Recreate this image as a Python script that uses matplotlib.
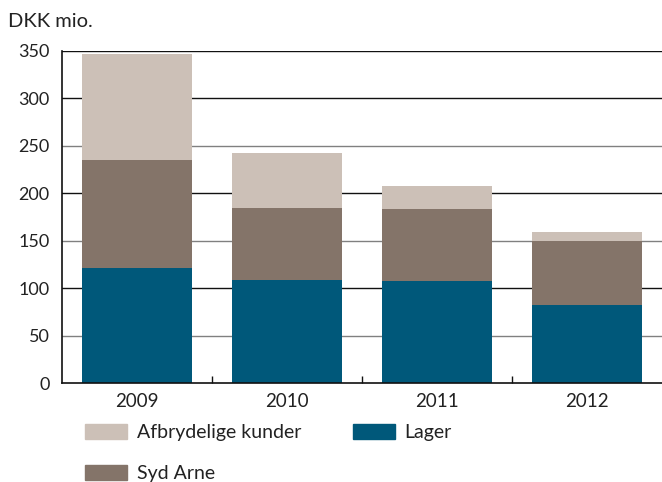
import matplotlib
matplotlib.use("Agg")
import matplotlib.pyplot as plt
from matplotlib.patches import Patch
import numpy as np

years = ["2009", "2010", "2011", "2012"]
lager = [121, 109, 107, 82]
syd_arne = [114, 75, 76, 68]
afbrydelige = [111, 58, 24, 9]

c_lager = "#00587A"
c_syd = "#847469"
c_afb = "#CCC0B7"

plt.rcParams["font.family"] = ["Lato", "DejaVu Sans"]

fig = plt.figure(figsize=(6.62, 4.82), dpi=100)
ax = fig.add_axes([62/662, 99/482, 600/662, (383-50.7)/482])

x = np.arange(len(years))
w = 0.727
lager_a = np.array(lager)
syd_a = np.array(syd_arne)
afb_a = np.array(afbrydelige)

# gridlines (alternating black / grey), drawn beneath bars
for v in [50, 100, 150, 200, 250, 300, 350]:
    col = "#111111" if v % 100 == 0 or v == 350 else "#808080"
    ax.axhline(v, color=col, lw=1.0, zorder=0)

ax.bar(x, lager_a, w, color=c_lager, zorder=2)
ax.bar(x, syd_a, w, bottom=lager_a, color=c_syd, zorder=2)
ax.bar(x, afb_a, w, bottom=lager_a + syd_a, color=c_afb, zorder=2)

ax.set_xlim(-0.5, 3.5)
ax.set_ylim(0, 350)
ax.set_yticks(range(0, 351, 50))
ax.set_xticks(x)
ax.set_xticklabels(years)
ax.set_xticks([0.5, 1.5, 2.5], minor=True)

for s in ["top", "right"]:
    ax.spines[s].set_visible(False)
ax.spines["left"].set_linewidth(1.2)
ax.spines["bottom"].set_linewidth(1.2)
ax.spines["left"].set_color("#111111")
ax.spines["bottom"].set_color("#111111")

ax.tick_params(axis="y", length=0, pad=9, labelsize=13, colors="#222222")
ax.tick_params(axis="x", which="major", length=0, pad=7, labelsize=13.5, colors="#222222")
ax.tick_params(axis="x", which="minor", direction="in", length=5, width=1.0, color="#111111")

fig.text(8/662, 1 - 27/482, "DKK mio.", fontsize=14.5, color="#222222", ha="left", va="baseline")

handles = [Patch(color=c_afb), Patch(color=c_syd), Patch(color=c_lager)]
labels = ["Afbrydelige kunder", "Syd Arne", "Lager"]
fig.legend(handles, labels, loc="upper left", bbox_to_anchor=(85/662, 1 - 424/482),
           ncol=2, frameon=False, fontsize=14, borderpad=0, borderaxespad=0,
           handlelength=2.16, handleheight=0.82, handletextpad=0.52,
           columnspacing=2.63, labelspacing=1.2, labelcolor="#222222")

fig.savefig("out.png", dpi=100)
